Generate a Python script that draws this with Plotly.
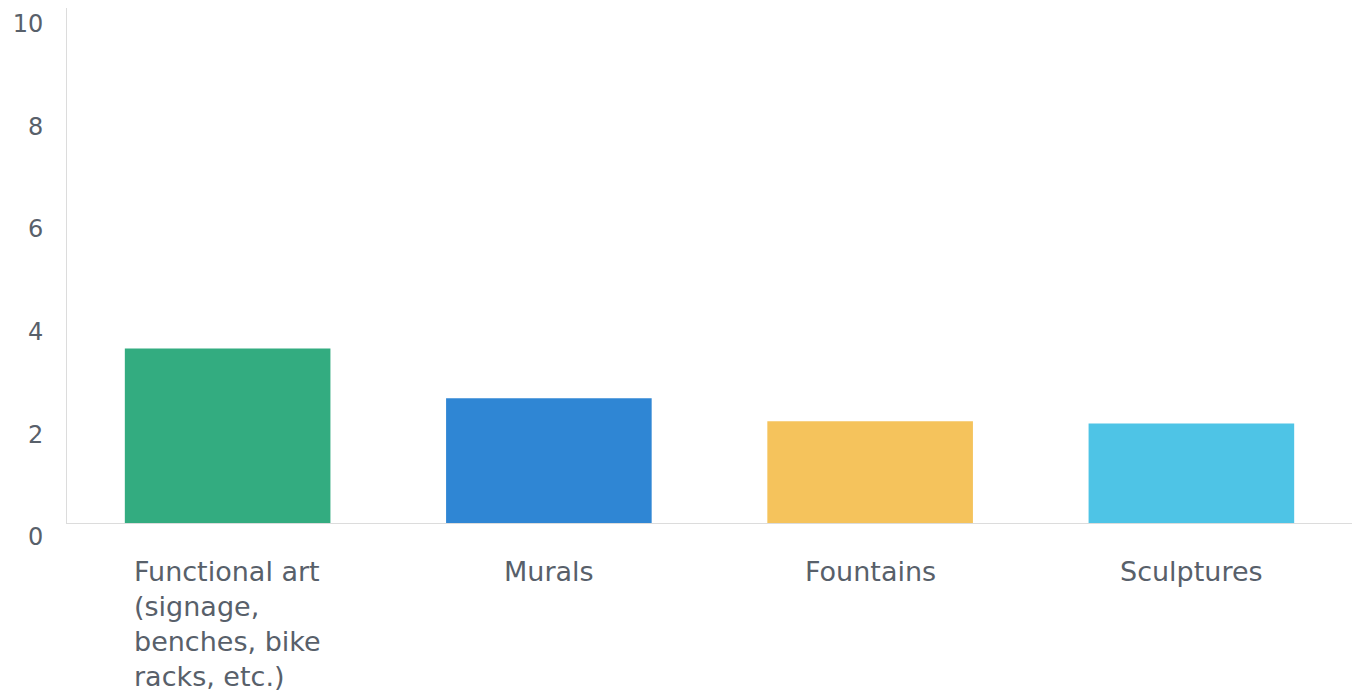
import plotly.graph_objects as go

categories = ["Functional art", "Murals", "Fountains", "Sculptures"]
category_labels = [
    "Functional art<br>(signage,<br>benches, bike<br>racks, etc.)",
    "Murals",
    "Fountains",
    "Sculptures",
]
values = [3.4, 2.43, 1.98, 1.94]
colors = ["#33AC80", "#2F86D4", "#F5C35C", "#4EC4E6"]
y_ticks = [0, 2, 4, 6, 8, 10]

font_family = "DejaVu Sans"
text_color = "#58606A"

fig = go.Figure(
    go.Bar(
        x=categories,
        y=values,
        marker=dict(color=colors, line=dict(width=0)),
        hoverinfo="skip",
    )
)

for cat, lab in zip(categories, category_labels):
    fig.add_annotation(
        x=cat, xref="x", y=0, yref="paper",
        yanchor="top", xanchor="center",
        text=lab, align="left", showarrow=False,
        yshift=-31,
        font=dict(family=font_family, size=27, color=text_color),
    )

fig.update_layout(
    width=1360, height=695,
    margin=dict(l=59, r=16, t=0, b=180),
    paper_bgcolor="white", plot_bgcolor="white",
    bargap=0.36,
    showlegend=False,
    font=dict(family=font_family, color=text_color),
)
fig.update_xaxes(
    showticklabels=False, showgrid=False, zeroline=False,
    showline=True, linecolor="#DCDCDC", linewidth=1,
    ticks="", automargin=False,
)
fig.update_yaxes(
    range=[0, 10.03], tickvals=y_ticks, ticktext=[str(t) for t in y_ticks],
    showgrid=False, zeroline=False, automargin=False,
    showline=True, linecolor="#DCDCDC", linewidth=1,
    ticks="", ticklabelstandoff=18, ticklabelshift=14,
    ticklabeloverflow="allow",
    tickfont=dict(family=font_family, size=24, color=text_color),
)

fig.write_html("out.html")
